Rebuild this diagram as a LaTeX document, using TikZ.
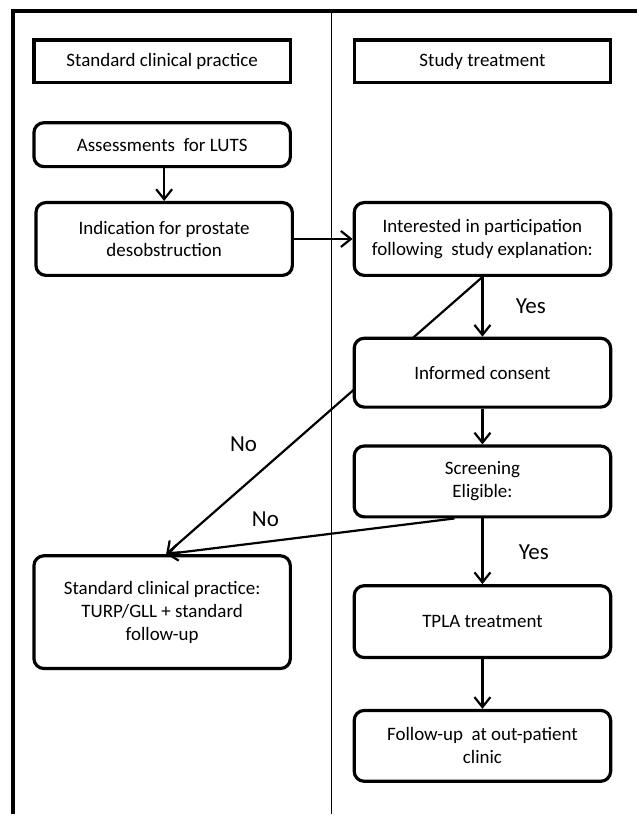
\documentclass[tikz,border=0pt]{standalone}
\usepackage{fontspec}
\setmainfont{Carlito}
\usetikzlibrary{arrows.meta,calc}
\pgfdeclarelayer{bg}
\pgfsetlayers{bg,main}
\begin{document}
\begin{tikzpicture}[x=1pt,y=-1pt,
  box/.style={draw,line width=3.2pt,rounded corners=10pt,fill=white,align=center,
    font=\fontsize{19}{23}\selectfont,inner sep=0pt},
  head/.style={box,rounded corners=0pt},
  arr/.style={line width=2.2pt,-{Straight Barb[length=10pt,width=16pt,line width=2.2pt]}},
  lbl/.style={font=\fontsize{23}{26}\selectfont}]
\begin{pgfonlayer}{bg}
\useasboundingbox (0,0) rectangle (638,816);
\fill[white] (0,0) rectangle (638,816);
\end{pgfonlayer}
% frame
\coordinate (ftl) at (13,11);
\coordinate (ftr) at (638,11);
\coordinate (fbl) at (13,816);
\coordinate (mt) at (332,11);
\coordinate (mb) at (332,816);
\draw[line width=3.6pt] (ftr) -- (ftl) -- (fbl);
\draw[line width=1.1pt] (mt) -- (mb);
% headers
\node[head,minimum width=257pt,minimum height=43pt] (hL) at (162.5,61.5) {Standard clinical practice};
\node[head,minimum width=257pt,minimum height=43pt] (hR) at (483.5,61.5) {Study treatment};
% left column
\node[box,minimum width=257pt,minimum height=44pt] (assess) at (162.5,145) {Assessments\ \ for LUTS};
\node[box,minimum width=257pt,minimum height=73pt] (indic) at (164.5,239.5) {Indication for prostate\\desobstruction};
\node[box,minimum width=257pt,minimum height=113pt] (std) at (162.5,613.5) {Standard clinical practice:\\TURP/GLL + standard\\follow-up};
% right column
\node[box,minimum width=257pt,minimum height=73pt] (inter) at (483.5,239.5) {Interested in participation\\following\ \ study explanation:};
\node[box,minimum width=257pt,minimum height=69pt] (consent) at (483.5,373.5) {Informed consent};
\node[box,minimum width=257pt,minimum height=71pt] (screen) at (483.5,482.5) {Screening\\Eligible:};
\node[box,minimum width=257pt,minimum height=72pt] (tpla) at (483.5,623) {TPLA treatment};
\node[box,minimum width=257pt,minimum height=71pt] (follow) at (483.5,747.5) {Follow-up\ \ at out-patient\\clinic};
\coordinate (stdin) at ($(std.north)+(4,0)$);
\coordinate (noout) at ($(screen.south)+(-28,0)$);
% connectors
\draw[arr] (assess.south -| indic.north) -- (indic.north);
\draw[arr] (indic) -- (inter);
\draw[arr] (inter) -- (consent);
\draw[arr] (consent) -- (screen);
\draw[arr] (screen) -- (tpla);
\draw[arr] (tpla) -- (follow);
\begin{pgfonlayer}{bg}
\draw[arr] (inter.south) -- (stdin);
\end{pgfonlayer}
\draw[arr] (noout) -- (stdin);
% labels
\node[lbl] (yes1) at (532,307) {Yes};
\node[lbl] (yes2) at (535,553) {Yes};
\node[lbl] (no1) at (244,445) {No};
\node[lbl] (no2) at (266,520) {No};
\end{tikzpicture}
\end{document}
